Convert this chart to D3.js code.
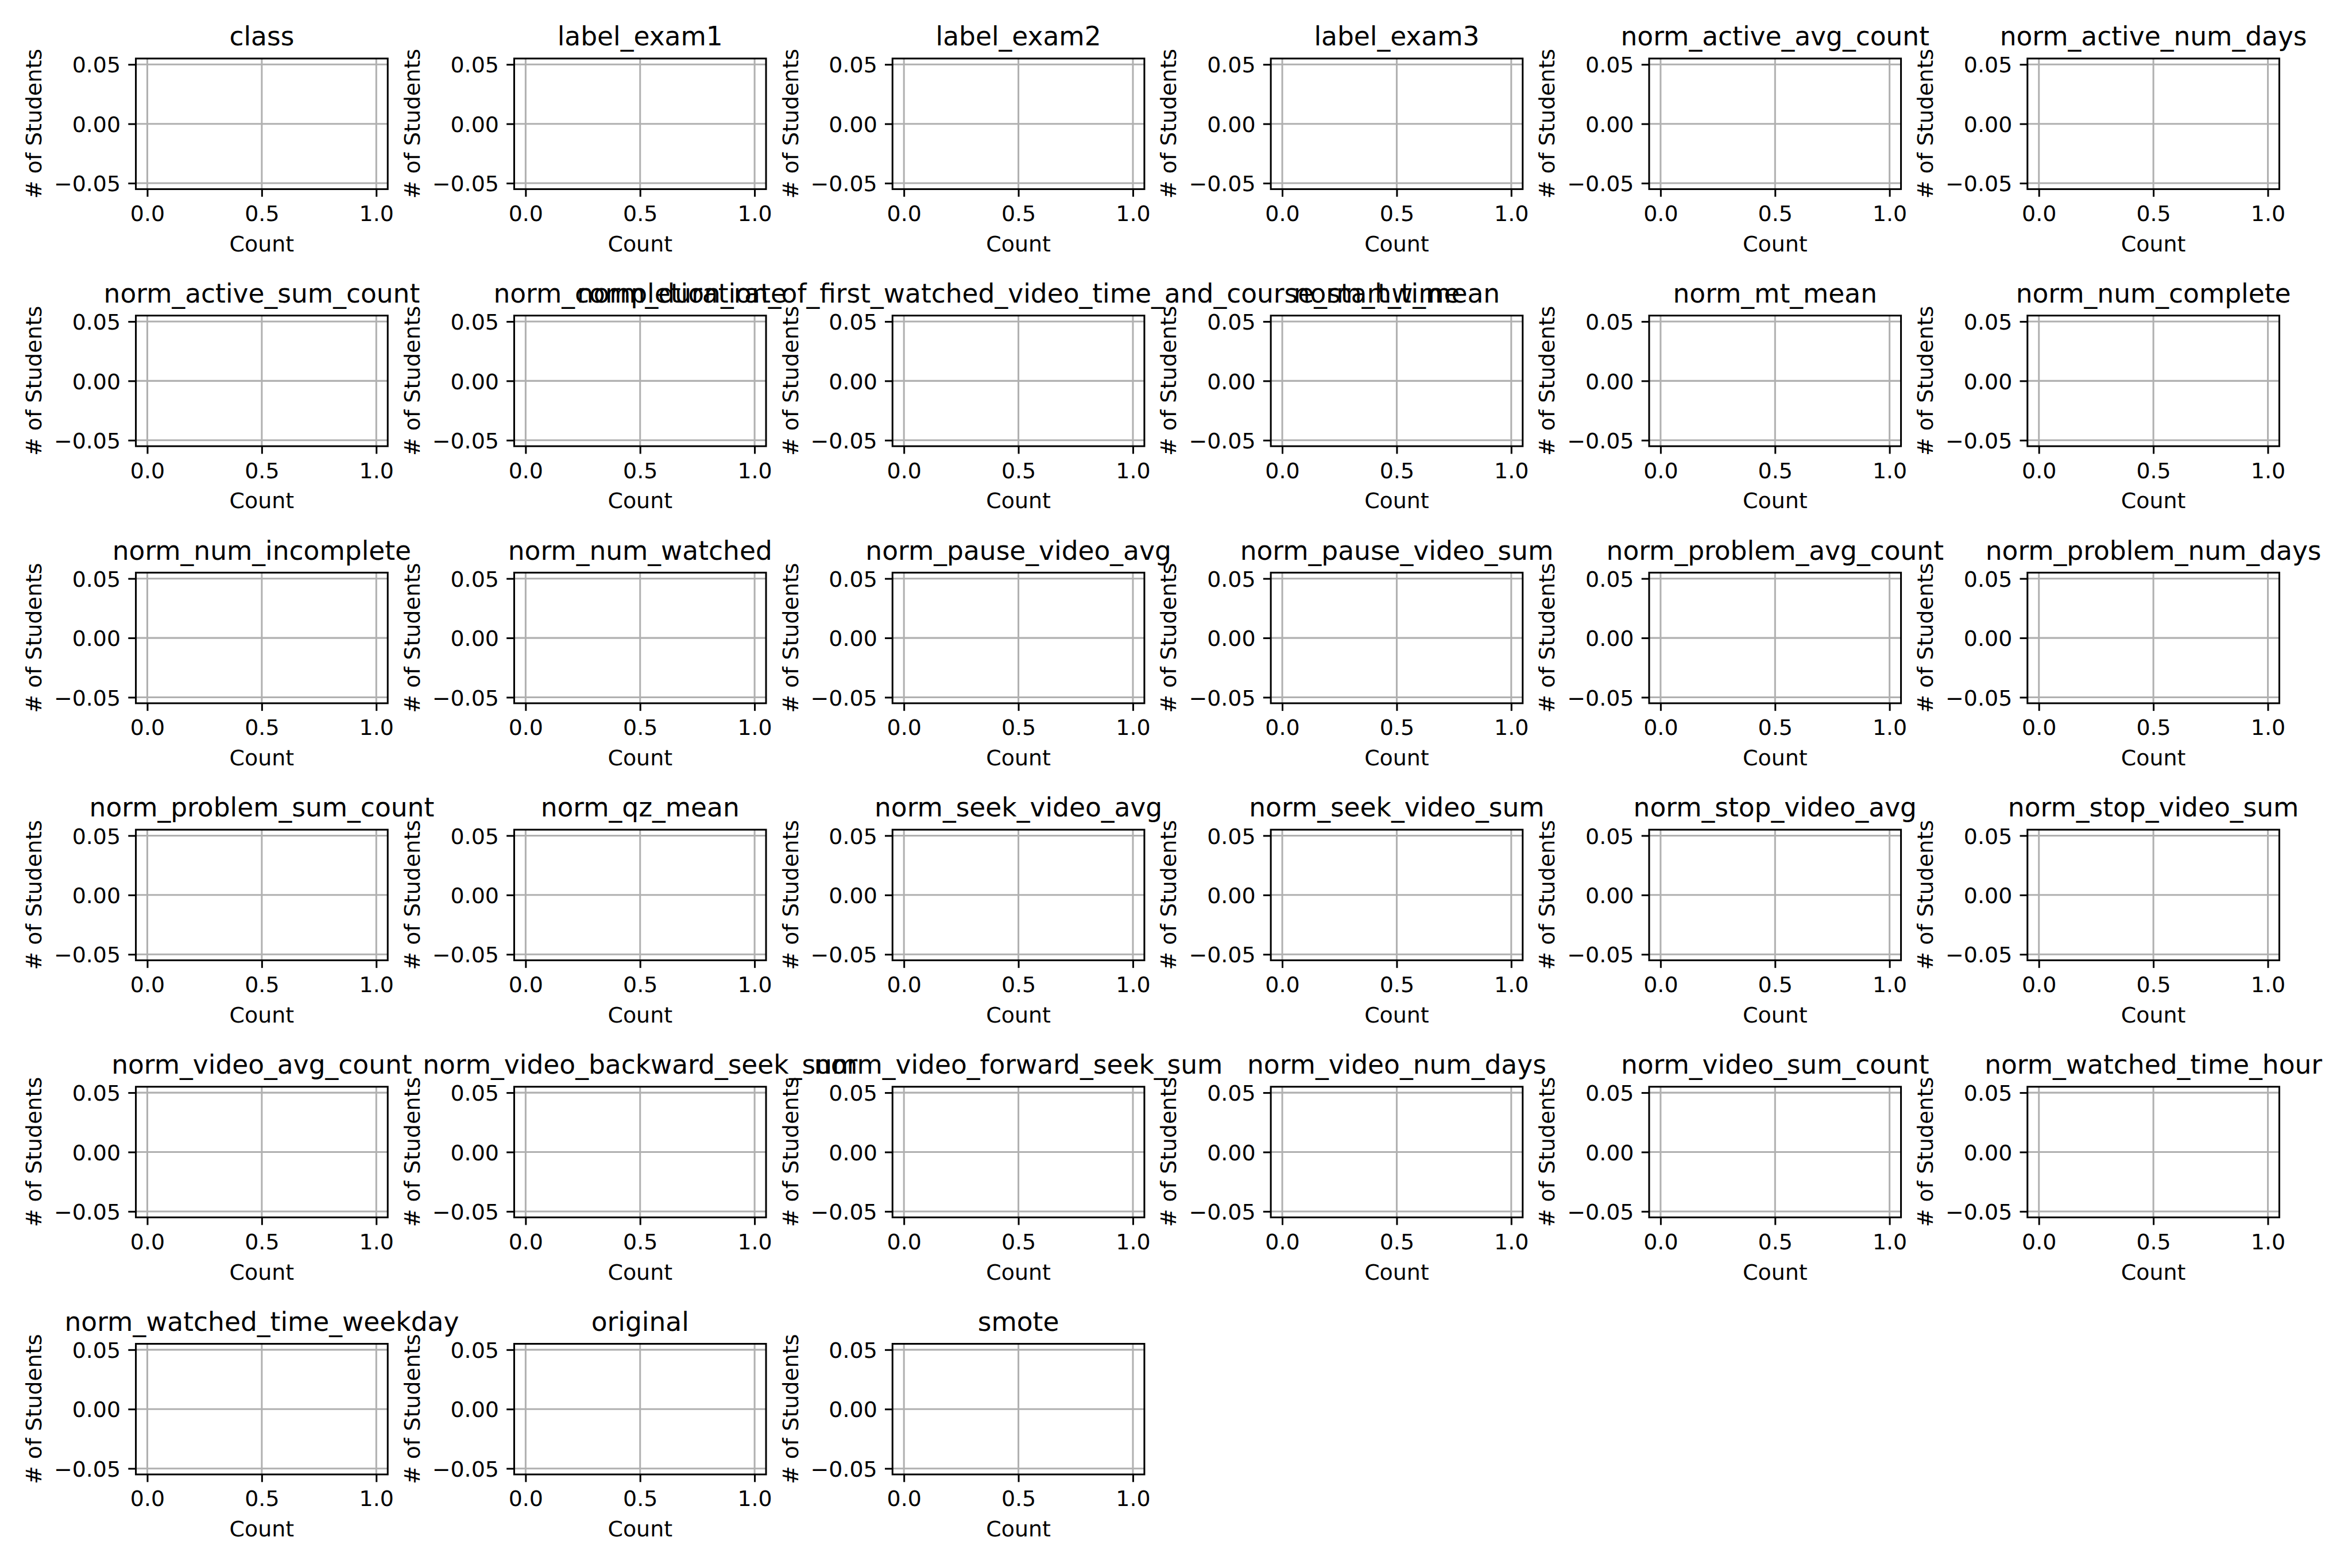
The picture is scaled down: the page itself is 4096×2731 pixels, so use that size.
<!DOCTYPE html>
<html>
<head>
<meta charset="utf-8">
<script src="https://cdn.jsdelivr.net/npm/d3@7"></script>
<style>
  html, body { margin: 0; padding: 0; background: #fff; }
  svg { display: block; }
</style>
</head>
<body>
<svg id="chart" width="4096" height="2731"></svg>
<script>
// ---- data ----
const titles = [
  "class", "label_exam1", "label_exam2", "label_exam3", "norm_active_avg_count", "norm_active_num_days",
  "norm_active_sum_count", "norm_completion_rate", "norm_duration_of_first_watched_video_time_and_course_start_time", "norm_hw_mean", "norm_mt_mean", "norm_num_complete",
  "norm_num_incomplete", "norm_num_watched", "norm_pause_video_avg", "norm_pause_video_sum", "norm_problem_avg_count", "norm_problem_num_days",
  "norm_problem_sum_count", "norm_qz_mean", "norm_seek_video_avg", "norm_seek_video_sum", "norm_stop_video_avg", "norm_stop_video_sum",
  "norm_video_avg_count", "norm_video_backward_seek_sum", "norm_video_forward_seek_sum", "norm_video_num_days", "norm_video_sum_count", "norm_watched_time_hour",
  "norm_watched_time_weekday", "original", "smote"
];
const xTicks = [0.0, 0.5, 1.0];
const xTickLabels = ["0.0", "0.5", "1.0"];
const yTicks = [-0.05, 0.0, 0.05];
const yTickLabels = ["\u22120.05", "0.00", "0.05"];
const xDomain = [-0.05, 1.05];
const yDomain = [-0.055, 0.055];
const xLabel = "Count";
const yLabel = "# of Students";
// each histogram is empty (no counts)
const histValues = titles.map(() => []);

// ---- layout (reference pixel units, then scaled) ----
const S = 0.91;
const nCols = 6;
const colLeft0 = 260, colStep = 724, axW = 482;
const rowTop0 = 112, rowStep = 492, axH = 250;
const pt = 300 / 72;           // px per point in reference
const lw = 0.8 * pt;           // line width
const fs = 10 * pt;            // tick/label font size
const tfs = 12 * pt;           // title font size
const tickLen = 3.5 * pt;
const font = "'DejaVu Sans', 'Liberation Sans', sans-serif";

const svg = d3.select("#chart");
const root = svg.append("g").attr("transform", `scale(${S})`);

titles.forEach((title, i) => {
  const c = i % nCols, r = Math.floor(i / nCols);
  const left = colLeft0 + c * colStep;
  const top = rowTop0 + r * rowStep;
  const x = d3.scaleLinear().domain(xDomain).range([0, axW]);
  const y = d3.scaleLinear().domain(yDomain).range([axH, 0]);
  const g = root.append("g").attr("transform", `translate(${left},${top})`);

  // grid
  g.append("g").selectAll("line.vg").data(xTicks).join("line")
    .attr("x1", d => x(d)).attr("x2", d => x(d)).attr("y1", 0).attr("y2", axH)
    .attr("stroke", "#b0b0b0").attr("stroke-width", lw);
  g.append("g").selectAll("line.hg").data(yTicks).join("line")
    .attr("x1", 0).attr("x2", axW).attr("y1", d => y(d)).attr("y2", d => y(d))
    .attr("stroke", "#b0b0b0").attr("stroke-width", lw);

  // bars (empty histogram)
  g.append("g").selectAll("rect").data(histValues[i]).join("rect");

  // axes
  const xa = d3.axisBottom(x).tickValues(xTicks).tickFormat((d, k) => xTickLabels[k])
    .tickSize(tickLen).tickSizeOuter(0).tickPadding(16.7);
  const gx = g.append("g").attr("transform", `translate(0,${axH})`).call(xa);
  const ya = d3.axisLeft(y).tickValues(yTicks).tickFormat((d, k) => yTickLabels[k])
    .tickSize(tickLen).tickSizeOuter(0).tickPadding(tickLen);
  const gy = g.append("g").call(ya);
  [gx, gy].forEach(a => {
    a.attr("font-size", fs).attr("font-family", font);
    a.select(".domain").remove();
    a.selectAll(".tick line").attr("stroke", "#000").attr("stroke-width", lw);
    a.selectAll(".tick text").attr("fill", "#000");
  });
  gy.selectAll(".tick text").attr("dy", "0.36em");

  // spines
  g.append("rect").attr("x", 0).attr("y", 0).attr("width", axW).attr("height", axH)
    .attr("fill", "none").attr("stroke", "#000").attr("stroke-width", lw);

  // title
  g.append("text").attr("x", axW / 2).attr("y", -6 * pt)
    .attr("text-anchor", "middle").attr("font-family", font).attr("font-size", tfs)
    .text(title);
  // x label
  g.append("text").attr("x", axW / 2).attr("y", axH + 119)
    .attr("text-anchor", "middle").attr("font-family", font).attr("font-size", fs)
    .text(xLabel);
  // y label
  g.append("text").attr("transform", `translate(-181,${axH / 2}) rotate(-90)`)
    .attr("text-anchor", "middle").attr("font-family", font).attr("font-size", fs)
    .text(yLabel);
});
</script>
</body>
</html>
